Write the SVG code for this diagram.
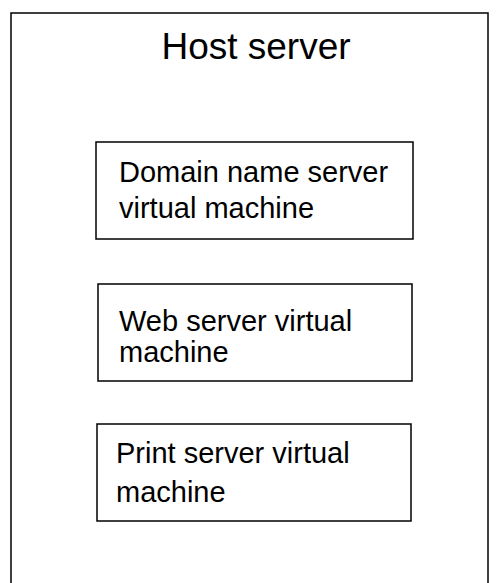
<svg xmlns="http://www.w3.org/2000/svg" width="499" height="583" viewBox="0 0 499 583">
<style>
.box{fill:#fff;stroke:#000;stroke-width:1.5}
.t{font-family:"Liberation Sans",Arial,sans-serif;fill:#000}
.lbl{font-size:29px}
</style>
<rect width="499" height="583" fill="#fff"/>
<g id="host">
<rect class="box" x="11" y="13" width="477" height="600"/>
<text class="t" x="256" y="59" font-size="37" text-anchor="middle">Host server</text>
</g>
<g id="connectors"></g>
<g id="dns">
<rect class="box" x="96" y="142" width="317" height="97"/>
<text class="t lbl" x="119" y="182">Domain name server</text>
<text class="t lbl" x="119" y="218">virtual machine</text>
</g>
<g id="web">
<rect class="box" x="98" y="284" width="314" height="97"/>
<text class="t lbl" x="119" y="331">Web server virtual</text>
<text class="t lbl" x="119" y="362">machine</text>
</g>
<g id="print">
<rect class="box" x="97" y="424" width="314" height="97"/>
<text class="t lbl" x="116" y="463">Print server virtual</text>
<text class="t lbl" x="116" y="502">machine</text>
</g>
</svg>
